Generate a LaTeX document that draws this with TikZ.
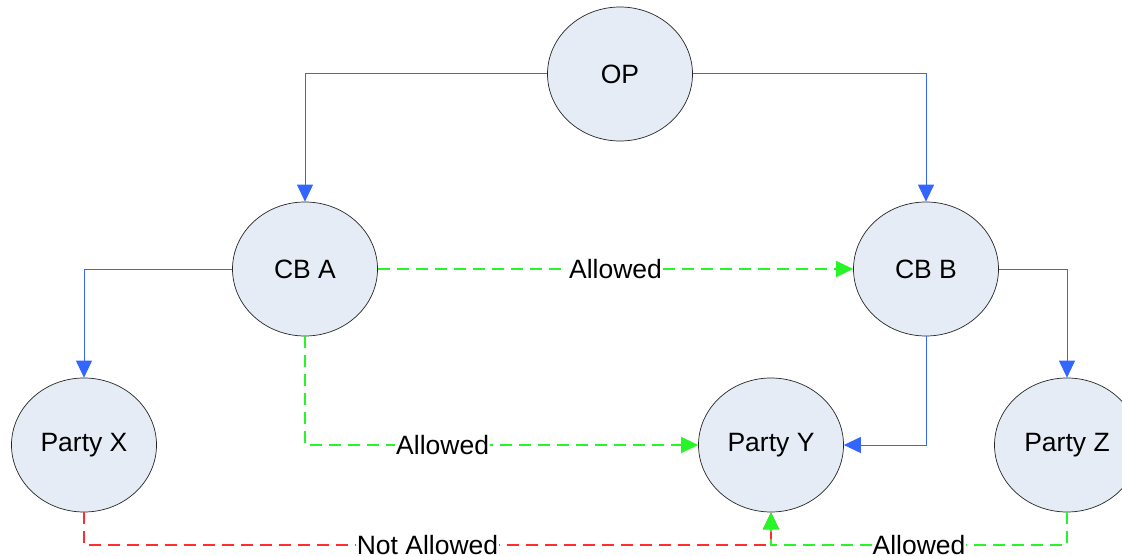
\documentclass[tikz,border=0pt]{standalone}
\usepackage{fontspec}
\setmainfont{Liberation Sans}
\usetikzlibrary{arrows.meta,shapes.geometric}
\definecolor{bubble}{RGB}{230,236,246}
\definecolor{linkblue}{RGB}{51,102,255}
\definecolor{okgreen}{RGB}{40,245,40}
\definecolor{nored}{RGB}{255,45,45}

\begin{document}
\begin{tikzpicture}[x=1pt, y=1pt, font=\fontsize{26.5}{30}\selectfont,
   party/.style={ellipse, draw=black!85, line width=0.7pt, fill=bubble, minimum width=145pt, minimum height=134pt, inner sep=0pt},
   arrowhead/.style={-{Triangle[length=17pt,width=16pt]}},
   bluelink/.style={arrowhead, linkblue, line width=1pt},
   oklink/.style={arrowhead, okgreen, line width=1.5pt, dash pattern=on 12pt off 7pt},
   nolink/.style={arrowhead, nored, line width=1.5pt, dash pattern=on 12pt off 7pt},
   tag/.style={fill=white, inner sep=1pt}]

\useasboundingbox (0,0) rectangle (1122,-556);

                 \node [party] at (620,-74) (OP) {OP};
              \node [party] at (305,-269) (CBA) {CB A};
                   \node [party] at (926,-269) (CBB) {CB B};
                       \node [party] at (84,-445) (PX) {Party X};
                        \node [party] at (771,-445) (PY) {Party Y};
                        \node [party] at (1067,-445) (PZ) {Party Z};
                          \coordinate (join) at (771,-545);
%
\draw[bluelink] (OP.west) -| (CBA.north);
\draw[bluelink] (OP.east) -| (CBB.north);
\draw[bluelink] (CBA.west) -| (PX.north);
\draw[bluelink] (CBB.east) -| (PZ.north);
\draw[bluelink] (CBB.south) |- (PY.east);
%
\draw[oklink] (CBA.east) -- (CBB.west);
\draw[oklink] (CBA.south) |- (PY.west);
\draw[nolink] (PX.south) |- (join) -- (PY.south);
\draw[oklink] (PZ.south) |- (join) -- (PY.south);
%
\path (CBA.east) -- node[tag] {Allowed} (CBB.west);
\path (CBA.south) |- node[tag, pos=.675] {Allowed} (PY.west);
\path (PX.south) |- node[tag, pos=.75] {Not Allowed} (join);
\path (PZ.south) |- node[tag, pos=.75] {Allowed} (join);

\end{tikzpicture}
\end{document}
